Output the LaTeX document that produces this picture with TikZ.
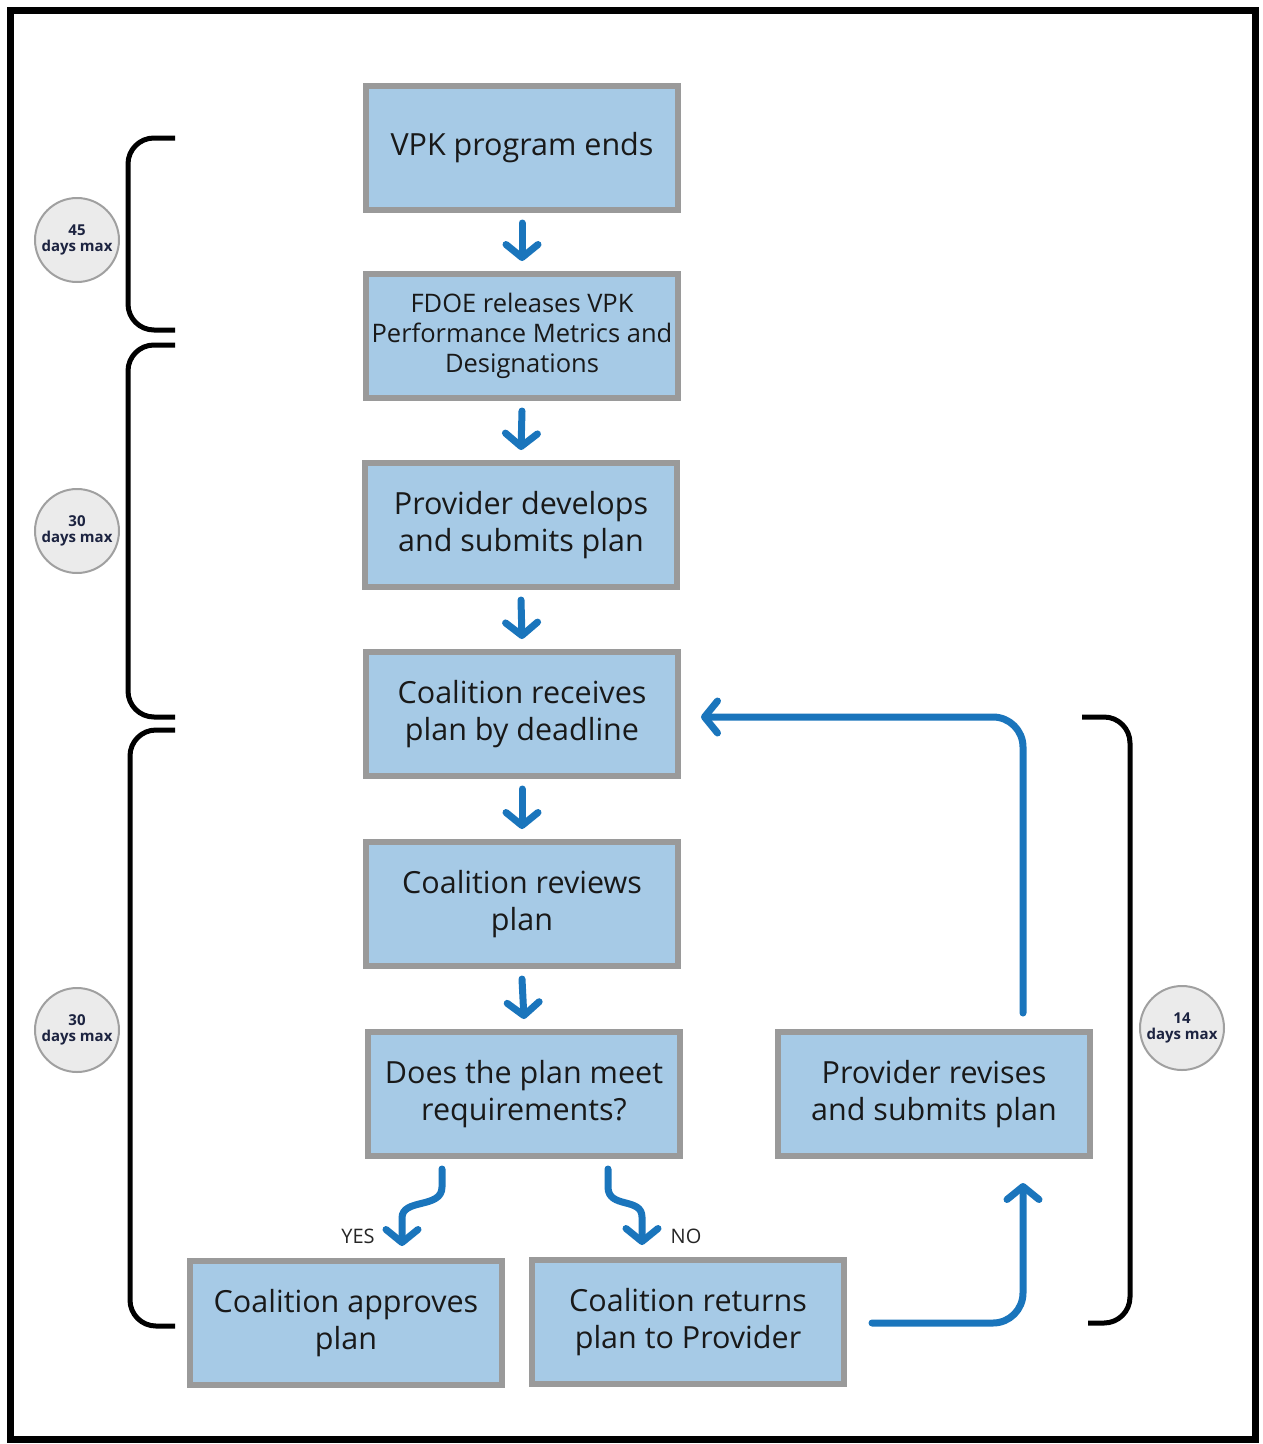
\documentclass[tikz,border=0pt]{standalone}
\usepackage{fontspec}
\setmainfont{Open Sans}
\usetikzlibrary{arrows.meta}
\definecolor{boxfill}{HTML}{A6CAE6}
\definecolor{boxline}{HTML}{9A9A9A}
\definecolor{arrblue}{HTML}{1A75BC}
\definecolor{circfill}{HTML}{EBEBEB}
\definecolor{circline}{HTML}{A0A0A0}
\definecolor{navy}{HTML}{1C2340}
\tikzset{
  stepbox/.style={draw=boxline, fill=boxfill, line width=6pt, minimum width=312pt, minimum height=124pt,
    align=center, inner sep=2pt, font=\fontsize{30.5}{37}\selectfont, text=black!90},
  arr/.style={draw=arrblue, line width=7pt, line cap=round, line join=round,
    -{Straight Barb[length=13pt, width=32pt, line cap=round, line join=round]}},
  bracket/.style={draw=black, line width=5pt, rounded corners=26pt},
  daycirc/.style={circle, draw=circline, fill=circfill, line width=2pt, minimum size=84pt, inner sep=0pt,
    align=center, text=navy, font=\bfseries\fontsize{15}{16.5}\selectfont},
  lbl/.style={font=\fontsize{20}{20}\selectfont, text=black!85}
}
\begin{document}
\begin{tikzpicture}[x=1pt, y=-1pt]
\useasboundingbox (0,0) rectangle (1262,1444);
\draw[line width=7pt] (10,10) rectangle (1255,1439);

\node[stepbox] (b1) at (522,148) {VPK program ends};
\node[stepbox, font=\fontsize{25.5}{30}\selectfont] (b2) at (522,336) {FDOE releases VPK\\Performance Metrics and\\Designations};
\node[stepbox] (b3) at (521,525) {Provider develops\\and submits plan};
\node[stepbox] (b4) at (522,714) {Coalition receives\\plan by deadline};
\node[stepbox] (b5) at (522,904) {Coalition reviews\\plan};
\node[stepbox] (b6) at (524,1094) {Does the plan meet\\requirements?};
\node[stepbox] (b7) at (346,1323) {Coalition approves\\plan};
\node[stepbox] (b8) at (688,1322) {Coalition returns\\plan to Provider};
\node[stepbox] (b9) at (934,1094) {Provider revises\\and submits plan};

\draw[arr] ([yshift=-10pt]b1.south) -- ([yshift=10pt]b2.north);
\draw[arr] ([yshift=-10pt]b2.south) -- ([yshift=10pt]b3.north);
\draw[arr] ([yshift=-10pt]b3.south) -- ([yshift=10pt]b4.north);
\draw[arr] ([yshift=-10pt]b4.south) -- ([yshift=10pt]b5.north);
\draw[arr] ([yshift=-10pt]b5.south) -- ([yshift=10pt]b6.north);

\coordinate (ys) at ([xshift=-82pt,yshift=-10pt]b6.south);
\coordinate (ye) at ([xshift=56pt,yshift=12pt]b7.north);
\draw[arr] (ys) -- ++(0,18) .. controls ++(0,22) and ++(0,-20) .. ([yshift=28pt]ye) -- (ye);
\coordinate (ns) at ([xshift=84pt,yshift=-10pt]b6.south);
\coordinate (ne) at ([xshift=-46pt,yshift=12pt]b8.north);
\draw[arr] (ns) -- ++(0,18) .. controls ++(0,22) and ++(0,-20) .. ([yshift=28pt]ne) -- (ne);
\node[lbl] (yes) at (358,1236) {YES};
\node[lbl] (no) at (686,1236) {NO};

\coordinate (rc) at (1023,1323);
\draw[arr, rounded corners=30pt] ([xshift=25pt]b8.east |- rc) -- (rc) -- ([yshift=-24pt]b9.south -| rc);
\coordinate (lc) at (1023,717);
\draw[arr, rounded corners=30pt] ([yshift=16pt]b9.north -| lc) -- (lc) -- ([xshift=20pt]b4.east |- lc);

\draw[bracket] (175,138) -- (128,138) -- (128,330) -- (175,330);
\draw[bracket] (175,345) -- (128,345) -- (128,717) -- (175,717);
\draw[bracket] (175,730) -- (130,730) -- (130,1326) -- (175,1326);
\draw[bracket] (1082,717) -- (1130,717) -- (1130,1323) -- (1088,1323);

\node[daycirc] (c1) at (77,240) {45\\days max};
\node[daycirc] (c2) at (77,531) {30\\days max};
\node[daycirc] (c3) at (77,1030) {30\\days max};
\node[daycirc] (c4) at (1182,1028) {14\\days max};
\end{tikzpicture}
\end{document}
